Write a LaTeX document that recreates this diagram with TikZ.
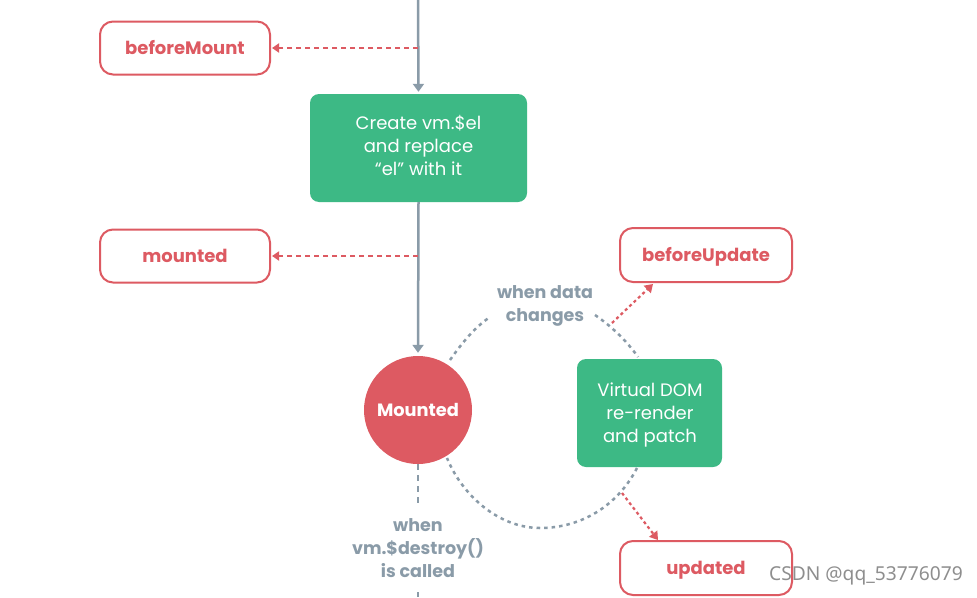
\documentclass[tikz,border=0pt]{standalone}
\usepackage{fontspec}
\setmainfont{Poppins}
\newfontfamily\wmfont{Noto Sans}
\usetikzlibrary{arrows.meta}
\definecolor{vred}{HTML}{DD5A62}
\definecolor{vgreen}{HTML}{3DB985}
\definecolor{vgray}{HTML}{8A9BA8}
\definecolor{wmgray}{HTML}{8E8E8E}
\tikzset{
  hookbox/.style={draw=vred, line width=2pt, rounded corners=13pt, fill=white,
    minimum width=170pt, minimum height=53pt, inner sep=0pt,
    text height=15pt, text depth=3pt,
    text=vred, font=\fontsize{18}{20}\selectfont\bfseries},
  procbox/.style={fill=vgreen, rounded corners=9pt, inner sep=0pt},
  proctext/.style={text=white, align=center, inner sep=0pt,
    font=\fontsize{18}{23}\selectfont},
  stagecirc/.style={circle, fill=vred, minimum size=108pt, inner sep=0pt,
    text height=14pt, text depth=1pt,
    text=white, font=\fontsize{17.8}{20}\selectfont\bfseries},
  condlabel/.style={text=vgray, align=center, inner sep=0pt,
    font=\fontsize{17.5}{23}\selectfont\bfseries},
  mainflow/.style={draw=vgray, line width=2.5pt, -{Triangle[width=11pt,length=8pt]}},
  hookarrow/.style={draw=vred, line width=2pt, dash pattern=on 5pt off 4pt,
    -{Triangle[width=9pt,length=7pt]}},
  hookdots/.style={draw=vred, line width=2.2pt, dash pattern=on 3pt off 3pt,
    -{Triangle[width=10pt,length=8pt]}},
  loopline/.style={draw=vgray, line width=2.5pt, dash pattern=on 3.5pt off 4pt},
  destroyline/.style={draw=vgray, line width=2pt, dash pattern=on 6pt off 5pt},
}
\begin{document}
\begin{tikzpicture}[x=1pt,y=-1pt]
\useasboundingbox[fill=white] (0,0) rectangle (977,597);

% nodes
\node[hookbox] (bm) at (185,48) {beforeMount};
\node[procbox, minimum width=217pt, minimum height=108pt] (create) at (418.5,148) {};
\node[proctext] (createtxt) at (418.5,145) {Create vm.\$el\\and replace\\“el” with it};
\node[hookbox] (mtd) at (185,256) {mounted};
\node[stagecirc] (mnt) at (418,410) {Mounted};
\node[hookbox, minimum width=172pt, minimum height=54pt] (bu) at (706,255) {beforeUpdate};
\node[procbox, minimum width=145pt, minimum height=108pt] (vd) at (649.5,413) {};
\node[proctext] (vdtxt) at (650,414.5) {Virtual DOM\\re-render\\and patch};
\node[hookbox, minimum width=172pt, minimum height=54pt] (up) at (706,568) {updated};
\node[condlabel] (wdc) at (545,306) {when data\\changes};
\node[condlabel] (wdes) at (418,548.5) {when\\vm.\$destroy()\\is called};
\node[text=wmgray, inner sep=0pt, anchor=west, font=\wmfont\fontsize{19.2}{20}\selectfont]
  (wm) at (769,576) {CSDN @qq\_53776079};

% coordinates
\coordinate (top) at (418,0);
\coordinate (bmsrc) at (418,48);
\coordinate (mdsrc) at (418,256);
\coordinate (d1) at (418,503);
\coordinate (d2) at (418,592);
\coordinate (d3) at (418,597);
\coordinate (a1) at (450,360);
\coordinate (a2) at (490,317);
\coordinate (a3) at (595,315);
\coordinate (a4) at (638,357);
\coordinate (b1) at (637,468);
\coordinate (b2) at (540,528);
\coordinate (b3) at (447,458);
\coordinate (busrc) at (612,323);
\coordinate (butip) at (653,284);
\coordinate (upsrc) at (622,493);
\coordinate (uptip) at (658,540);

% main flow
\draw[mainflow, shorten >=2pt] (top) -- (create.north);
\draw[mainflow, shorten >=3pt] (create.south) -- (mnt.north);
\draw[hookarrow, shorten >=1pt] (bmsrc) -- (bm.east);
\draw[hookarrow, shorten >=1pt] (mdsrc) -- (mtd.east);

% destroy
\draw[destroyline] (mnt.south) -- (d1);
\draw[destroyline] (d2) -- (d3);

% update loop
\draw[loopline] (a1) .. controls (462,343) and (474,328) .. (a2);
\draw[loopline] (a3) .. controls (611,326) and (626,340) .. (a4);
\draw[loopline] (b1) .. controls (618,505) and (582,528) .. (b2);
\draw[loopline] (b2) .. controls (500,528) and (463,497) .. (b3);

% hook arrows from loop
\draw[hookdots] (busrc) -- (butip);
\draw[hookdots] (upsrc) -- (uptip);
\end{tikzpicture}
\end{document}
